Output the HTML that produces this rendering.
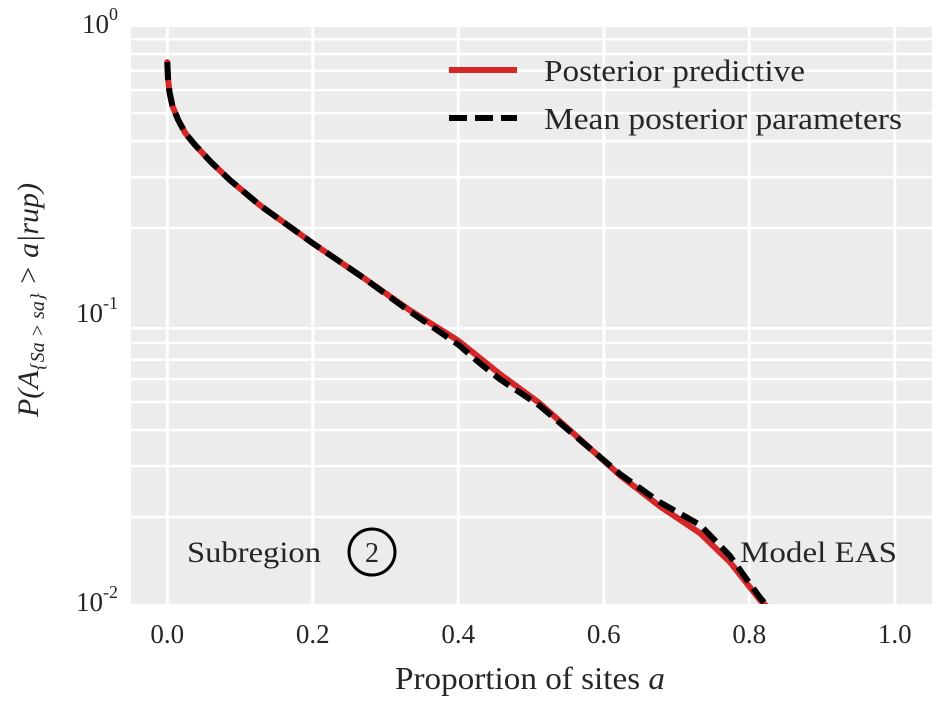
<!DOCTYPE html>
<html><head><meta charset="utf-8"><style>
body{margin:0;background:#fff;}
svg, svg text{font-family:"Liberation Serif","Times New Roman",serif !important;}
text{fill:#262626;}
</style></head><body>
<svg id="chart" width="943" height="707" font-family="Liberation Serif, serif" xmlns="http://www.w3.org/2000/svg">
<defs><clipPath id="pc"><rect x="131" y="27" width="801" height="577"/></clipPath></defs>
<rect x="131" y="27" width="801" height="577" fill="#ececec"/>
<g id="grid"></g><g id="ticks"></g>
<g id="series" clip-path="url(#pc)"></g>
<g>
<line x1="449" y1="70" x2="517" y2="70" stroke="#d62728" stroke-width="6"/>
<text x="544" y="81" font-size="31" textLength="261" lengthAdjust="spacingAndGlyphs">Posterior predictive</text>
<line x1="449" y1="118" x2="517" y2="118" stroke="#000" stroke-width="6" stroke-dasharray="18,8"/>
<text x="544" y="129" font-size="31" textLength="358" lengthAdjust="spacingAndGlyphs">Mean posterior parameters</text>
</g>
<text x="187" y="562" font-size="30" textLength="134" lengthAdjust="spacingAndGlyphs">Subregion</text>
<circle cx="372" cy="552" r="23" fill="none" stroke="#000" stroke-width="3"/>
<text x="372" y="562" font-size="28" text-anchor="middle">2</text>
<text x="740" y="562" font-size="30" textLength="157" lengthAdjust="spacingAndGlyphs">Model EAS</text>
<text x="395" y="689" font-size="32" textLength="270" lengthAdjust="spacingAndGlyphs">Proportion of sites <tspan font-style="italic">a</tspan></text>
<text transform="translate(38,300) rotate(-90)" font-size="30" text-anchor="middle" font-style="italic">P(A<tspan font-size="20" dy="6">{Sa &gt; sa}</tspan><tspan dy="-6"> &gt; a|rup)</tspan></text>
</svg>
<script>
const xTicks=[0.0,0.2,0.4,0.6,0.8,1.0];
const xTickLabels=["0.0","0.2","0.4","0.6","0.8","1.0"];
const yDecades=[0,-1,-2];
const xPost=[0,0.001,0.003,0.007,0.015,0.025,0.038,0.06,0.086,0.127,0.2,0.265,0.333,0.4,0.457,0.512,0.567,0.622,0.677,0.732,0.773,0.815,0.83];
const yPost=[0.75,0.66,0.59,0.53,0.473,0.425,0.388,0.338,0.293,0.240,0.177,0.137,0.104,0.0815,0.0625,0.0495,0.0372,0.0279,0.0218,0.0176,0.0140,0.0103,0.0095];
const xMean=[0,0.001,0.003,0.007,0.015,0.025,0.038,0.06,0.086,0.127,0.2,0.265,0.333,0.4,0.43,0.457,0.512,0.567,0.622,0.677,0.732,0.773,0.815,0.83];
const yMean=[0.75,0.66,0.59,0.53,0.473,0.425,0.388,0.338,0.293,0.240,0.177,0.137,0.103,0.0790,0.068,0.0600,0.0485,0.0370,0.0282,0.0225,0.0188,0.0147,0.0105,0.0095];
const NS="http://www.w3.org/2000/svg";
const X=v=>167.3+v*727.5;
const Y=v=>26-Math.log10(v)*289;
function mk(t,a,p){const e=document.createElementNS(NS,t);for(const k in a)e.setAttribute(k,a[k]);p.appendChild(e);return e;}
const grid=document.getElementById('grid'),ticks=document.getElementById('ticks'),ser=document.getElementById('series');
xTicks.forEach((v,i)=>{
 const l=mk('line',{x1:X(v),x2:X(v),y1:27,y2:604,stroke:'#fff','stroke-width':3},grid);
 
 
 const t=mk('text',{x:X(v),y:643,'font-size':27,'text-anchor':'middle'},ticks);t.textContent=xTickLabels[i];
 
 
});
yDecades.forEach(d=>{
 for(let m=2;m<=9;m++){const v=m*Math.pow(10,d-1);const y=Y(v);if(y<27||y>604)continue;
  const l=mk('line',{x1:131,x2:932,y1:y,y2:y,stroke:'#fff','stroke-width':2.5},grid);
  
  }
 const t=mk('text',{x:118,y:Y(Math.pow(10,d))+7,'font-size':27,'text-anchor':'end'},ticks);
 t.innerHTML='10<tspan font-size="18" dy="-13">'+d+'</tspan>';
 
 
});
function path(xs,ys){return xs.map((x,i)=>(i?'L':'M')+X(x).toFixed(1)+','+Y(ys[i]).toFixed(1)).join('');}
const p1=mk('path',{d:path(xPost,yPost),fill:'none',stroke:'#d62728','stroke-width':6,'stroke-linejoin':'round','stroke-linecap':'round'},ser);


const p2=mk('path',{d:path(xMean,yMean),fill:'none',stroke:'#000','stroke-width':6,'stroke-dasharray':'18,8','stroke-linejoin':'round'},ser);


</script>
</body></html>
